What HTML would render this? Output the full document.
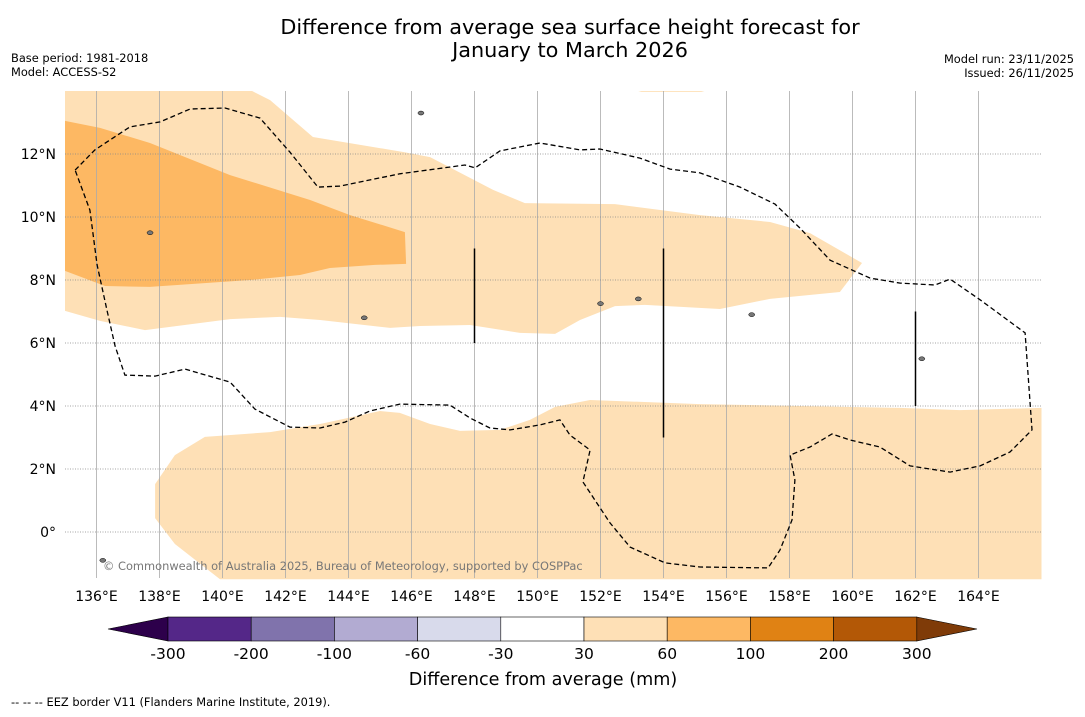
<!DOCTYPE html>
<html><head><meta charset="utf-8"><style>
body{margin:0;background:#fff;font-family:"DejaVu Sans","Liberation Sans",sans-serif;}
svg text{font-family:"DejaVu Sans","Liberation Sans",sans-serif;}
</style></head><body>
<svg id="c" width="1085" height="713" xmlns="http://www.w3.org/2000/svg">
<text x="570" y="34" font-size="20.8" text-anchor="middle">Difference from average sea surface height forecast for</text>
<text x="570" y="57" font-size="20.8" text-anchor="middle">January to March 2026</text>
<text x="11" y="62" font-size="11.4">Base period: 1981-2018</text>
<text x="11" y="76" font-size="11.4">Model: ACCESS-S2</text>
<text x="1074" y="63" font-size="11.4" text-anchor="end">Model run: 23/11/2025</text>
<text x="1074" y="77" font-size="11.4" text-anchor="end">Issued: 26/11/2025</text>
<g id="map"></g>
<g id="cb"></g>
<text x="543" y="685" font-size="17.6" text-anchor="middle">Difference from average (mm)</text>
<text x="11" y="706" font-size="11.4">--  --  -- EEZ border V11 (Flanders Marine Institute, 2019).</text>
</svg>
<script>
const lonTicks=[136,138,140,142,144,146,148,150,152,154,156,158,160,162,164];
const latTicks=[12,10,8,6,4,2,0];
const northBand=[[135,14],[140.94,14],[141.51,13.71],[142.87,12.54],[145.76,12.06],[146.59,11.9],[148.59,10.86],[149.6,10.44],[152.46,10.41],[155.16,10.06],[157.38,9.84],[158.65,9.49],[160.3,8.54],[159.6,7.62],[157.38,7.4],[155.79,7.08],[153.41,7.21],[152.46,7.17],[151.35,6.73],[150.56,6.29],[149.44,6.32],[147.86,6.57],[146.27,6.54],[145.32,6.48],[143.1,6.73],[141.83,6.83],[140.24,6.76],[137.54,6.41],[136.11,6.7],[135,7.02]];
const topSliver=[[153.2,14],[155.3,14],[155.2,13.97],[153.3,13.97]];
const orangeZone=[[135,13.05],[136.11,12.83],[137.7,12.35],[140.24,11.33],[142.78,10.54],[144.05,10.06],[145.79,9.52],[145.83,8.51],[144.84,8.48],[143.41,8.38],[142.46,8.16],[140.87,8.0],[137.7,7.78],[136.27,7.81],[135,8.29]];
const southBand=[[137.86,1.52],[138.49,2.44],[139.44,3.02],[141.51,3.17],[143.1,3.43],[145,3.84],[145.63,3.78],[146.59,3.43],[147.54,3.21],[148.81,3.24],[149.76,3.56],[150.56,3.97],[151.67,4.19],[155.16,4.06],[158.33,4.0],[161.51,3.94],[163.41,3.87],[166,3.94],[166,-1.5],[139.92,-1.5],[138.49,-0.38],[137.86,0.44]];
const eez=[[135.32,11.49],[135.95,12.13],[137.06,12.86],[138.02,13.02],[138.97,13.43],[140.08,13.46],[141.19,13.14],[142.14,12.06],[143.03,10.95],[143.73,10.98],[145.63,11.37],[147.7,11.65],[148.02,11.56],[148.81,12.1],[150.08,12.35],[151.35,12.13],[151.98,12.16],[153.25,11.87],[154.21,11.52],[155.16,11.4],[156.43,10.95],[157.54,10.41],[158.33,9.65],[159.29,8.63],[160.56,8.06],[161.51,7.9],[162.62,7.84],[163.1,8.03],[164.05,7.37],[165.48,6.32],[165.7,3.24],[165,2.54],[164.05,2.1],[163.1,1.9],[161.83,2.1],[160.87,2.7],[159.92,2.92],[159.35,3.11],[158.65,2.7],[158.02,2.44],[158.17,1.65],[158.08,0.38],[157.7,-0.57],[157.32,-1.14],[155.16,-1.11],[154.05,-0.98],[152.94,-0.48],[152.3,0.29],[151.44,1.59],[151.67,2.6],[151.03,3.08],[150.71,3.56],[150.08,3.4],[149.13,3.24],[148.49,3.3],[147.86,3.62],[147.22,4.03],[145.63,4.06],[144.68,3.84],[143.89,3.49],[143.1,3.3],[142.14,3.33],[141.03,3.9],[140.24,4.76],[138.81,5.17],[137.86,4.95],[136.9,4.98],[136.59,5.9],[136.33,7.05],[136.02,8.48],[135.79,10.22],[135.32,11.49]];
const eezSegments=[[148,9,6],[154,9,3],[162,7,4]];
const islands=[[136.2,-0.9],[144.5,6.8],[153.2,7.4],[152.0,7.25],[156.8,6.9],[146.3,13.3],[162.2,5.5],[137.7,9.5]];
const cbLevels=["-300","-200","-100","-60","-30","30","60","100","200","300"];
const cbColors=["#542788","#8073ac","#b2abd2","#d8daeb","#ffffff","#fee0b6","#fdb863","#e08214","#b35806"];
const NS="http://www.w3.org/2000/svg";
const X=lon=>65+(lon-135)*31.5, Y=lat=>91+(14-lat)*31.5;
function mk(tag,at,par){const e=document.createElementNS(NS,tag);for(const k in at)e.setAttribute(k,at[k]);par.appendChild(e);return e;}
const map=document.getElementById('map');
const pts=a=>a.map(p=>X(p[0]).toFixed(1)+','+Y(p[1]).toFixed(1)).join(' ');
let e;
e=mk('polygon',{points:pts(northBand),fill:'#fee0b6'},map);


e=mk('polygon',{points:pts(topSliver),fill:'#fee0b6'},map);


e=mk('polygon',{points:pts(orangeZone),fill:'#fdb863'},map);


e=mk('polygon',{points:pts(southBand),fill:'#fee0b6'},map);


lonTicks.forEach(l=>{
 e=mk('line',{x1:X(l),x2:X(l),y1:91,y2:578,stroke:'#aaa',"stroke-width":0.8},map);
 
 
 e=mk('text',{x:X(l),y:601,"font-size":14,"text-anchor":"middle"},map);e.textContent=l+'°E';
 
 
});
latTicks.forEach(l=>{
 e=mk('line',{x1:65,x2:1042,y1:Y(l),y2:Y(l),stroke:'#888',"stroke-width":0.8,"stroke-dasharray":"1,1.5"},map);
 
 
 e=mk('text',{x:56,y:Y(l)+5,"font-size":14,"text-anchor":"end"},map);e.textContent=l===0?'0°':l+'°N';
 
 
});
e=mk('polyline',{points:pts(eez),fill:'none',stroke:'#000',"stroke-width":1.3,"stroke-dasharray":"5,3"},map);


eezSegments.forEach(s=>{
 e=mk('line',{x1:X(s[0]),x2:X(s[0]),y1:Y(s[1]),y2:Y(s[2]),stroke:'#000',"stroke-width":1.5},map);
 
 
});
islands.forEach(p=>{
 e=mk('ellipse',{cx:X(p[0]),cy:Y(p[1]),rx:3,ry:2,fill:'#777',stroke:'#000',"stroke-width":0.5},map);
 
 
});
e=mk('text',{x:103,y:570,"font-size":11.4,fill:'#777'},map);e.textContent='© Commonwealth of Australia 2025, Bureau of Meteorology, supported by COSPPac';


const cb=document.getElementById('cb');
const cx0=168,cw=83.2,cy=617,ch=24;
e=mk('polygon',{points:`108,629 ${cx0},${cy} ${cx0},${cy+ch}`,fill:'#2d004b',stroke:'#000',"stroke-width":0.6},cb);


cbColors.forEach((c,i)=>{
 e=mk('rect',{x:cx0+i*cw,y:cy,width:cw,height:ch,fill:c,stroke:'#000',"stroke-width":0.6},cb);
 
 
});
const cx1=cx0+cbColors.length*cw;
e=mk('polygon',{points:`${cx1},${cy} 977,629 ${cx1},${cy+ch}`,fill:'#7f3b08',stroke:'#000',"stroke-width":0.6},cb);


cbLevels.forEach((t,i)=>{
 e=mk('text',{x:cx0+i*cw,y:659,"font-size":15.5,"text-anchor":"middle"},cb);e.textContent=t;
 
 
});
</script>
</body></html>
